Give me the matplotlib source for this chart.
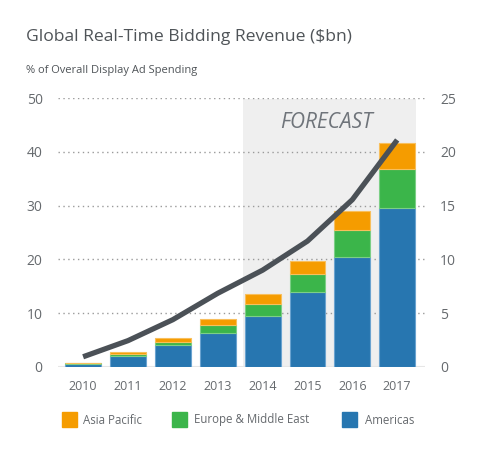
import matplotlib
matplotlib.use("Agg")
import matplotlib.pyplot as plt
from matplotlib.patches import Rectangle

years = ["2010", "2011", "2012", "2013", "2014", "2015", "2016", "2017"]
americas = [0.28, 1.05, 2.0, 3.15, 4.77, 7.0, 10.25, 14.8]
europe_me = [0.07, 0.2, 0.35, 0.75, 1.11, 1.65, 2.51, 3.6]
asia_pacific = [0.02, 0.15, 0.35, 0.55, 0.88, 1.17, 1.7, 2.4]
share_pct = [1.9, 4.9, 8.8, 13.7, 18.0, 23.4, 31.1, 42.2]
left_ticks = [0, 10, 20, 30, 40, 50]
right_ticks = [0, 5, 10, 15, 20, 25]
legend_labels = ["Asia Pacific", "Europe & Middle East", "Americas"]

plt.rcParams['font.family'] = ['Open Sans', 'DejaVu Sans']

C_BLUE = "#2776b0"
C_GREEN = "#3bb54a"
C_ORANGE = "#f59c00"
C_LINE = "#4b5157"
C_TEXT = "#666a6e"

fig = plt.figure(figsize=(4.82, 4.53), dpi=100)
ax = fig.add_axes([58/482, 1-367/453, (425-58)/482, (367-98)/453])
ax2 = ax.twinx()

x = list(range(len(years)))
ax.set_xlim(-0.56, 7.62)
ax.set_ylim(0, 50)
ax2.set_ylim(0, 25)

# forecast shading
ax.axvspan(3.56, 7.42, ymin=0, ymax=0.995, color="#efefef", zorder=0, lw=0)
ax.text(5.42, 45.4, "FORECAST", ha="center", va="center", fontsize=15,
        style="italic", color="#6f747a", zorder=1)

# grid
for t in left_ticks[1:]:
    ax.axhline(t, color="#9a9a9a", lw=1.0, ls=(0, (1, 2.5)), zorder=1)
ax.axhline(0, color="#e6e6e6", lw=1.5, zorder=1)

ax2.set_zorder(ax.get_zorder() + 1)
ax2.patch.set_visible(False)

w = 0.8
ax2.bar(x, americas, width=w, color=C_BLUE, edgecolor="#6aa3d0", lw=0.8, zorder=2)
ax2.bar(x, europe_me, width=w, bottom=americas, color=C_GREEN, edgecolor="#7ccf86", lw=0.8, zorder=2)
bottom3 = [a + e for a, e in zip(americas, europe_me)]
ax2.bar(x, asia_pacific, width=w, bottom=bottom3, color=C_ORANGE, edgecolor="#f8bf5c", lw=0.8, zorder=2)

ax2.plot(x, [v / 2 for v in share_pct], color=C_LINE, lw=3.8, solid_capstyle="butt",
         solid_joinstyle="round", zorder=3)

for a in (ax, ax2):
    for s in a.spines.values():
        s.set_visible(False)
    a.tick_params(length=0, colors=C_TEXT, labelsize=10)

ax.set_yticks(left_ticks)
ax.set_yticklabels([str(t) for t in left_ticks])
ax.tick_params(axis="y", pad=11)
ax2.set_yticks(right_ticks)
ax2.set_yticklabels([str(t) for t in right_ticks])
ax2.tick_params(axis="y", pad=11)
ax.set_xticks(x)
ax.set_xticklabels(years)
ax.tick_params(axis="x", pad=9, labelsize=9)

fig.text(26/482, 1-37/453, "Global Real-Time Bidding Revenue ($bn)", fontsize=12.6,
         color="#4f5458", ha="left", va="center")
fig.text(26/482, 1-70/453, "% of Overall Display Ad Spending", fontsize=8,
         color="#4f5458", ha="left", va="center")

# legend, drawn manually
sq_x = [62, 172, 342]
txt_x = [83, 194, 365]
cols = [C_ORANGE, C_GREEN, C_BLUE]
for sx, tx, c, lab in zip(sq_x, txt_x, cols, legend_labels):
    fig.patches.append(Rectangle((sx/482, 1-427/453), 15/482, 15/453,
                                 transform=fig.transFigure, color=c))
    fig.text(tx/482, 1-420/453, lab, fontsize=8.3, color=C_TEXT,
             ha="left", va="center")

fig.savefig("out.png", dpi=100, facecolor="white")
